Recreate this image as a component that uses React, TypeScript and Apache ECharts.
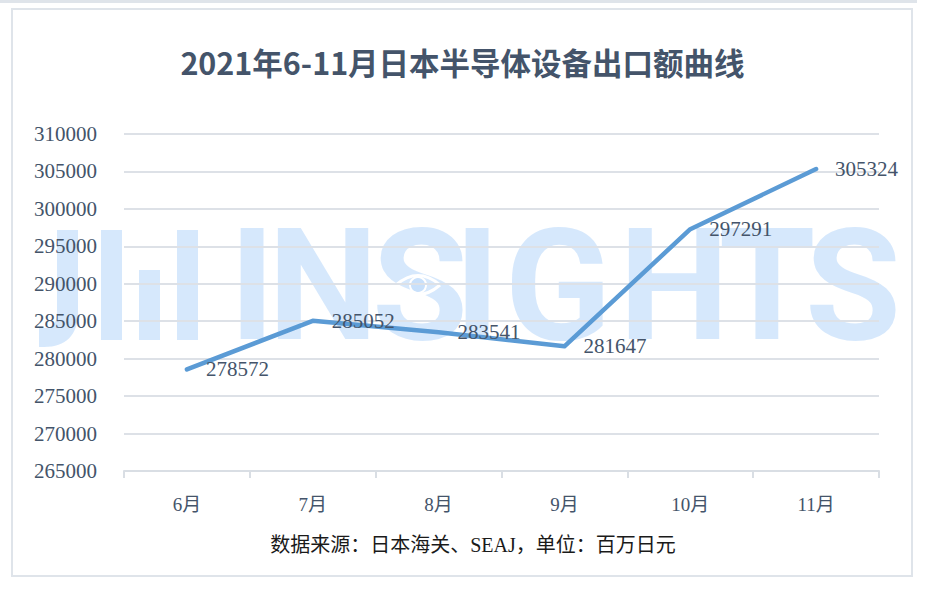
import React, { useEffect, useRef } from "react";
import * as echarts from "echarts";

const titleText = "2021年6-11月日本半导体设备出口额曲线";
const footerText = "数据来源：日本海关、SEAJ，单位：百万日元";
const categories = ["6月", "7月", "8月", "9月", "10月", "11月"];
const exportValues = [278572, 285052, 283541, 281647, 297291, 305324];
const yMin = 265000;
const yMax = 310000;
const yStep = 5000;
const watermarkLetters = ["I", "N", "S", "I", "G", "H", "T", "S"];
const watermarkCenters = [252, 323, 420, 477, 558, 674, 767, 853];

let registered = false;
function registerShapes() {
  if (registered) return;
  registered = true;
  const j = echarts.graphic.extendPath(
    "M57,230 L78,230 L78,312 C78,335 66,347 44,347 L39,347 L39,328 L44,328 C53,328 57,323 57,312 Z",
    {}
  );
  echarts.graphic.registerShape("wmJ", j);
}

export default function App() {
  const ref = useRef<HTMLDivElement>(null);
  useEffect(() => {
    if (!ref.current) return;
    registerShapes();
    const chart = echarts.init(ref.current, undefined, { renderer: "svg" });
    const wmColor = "rgba(120,180,245,0.3)";
    const serif = "'Liberation Serif', 'Noto Sans CJK SC', serif";
    const textColor = "#44546a";
    const graphic: any[] = [
      {
        type: "rect",
        z: -100,
        silent: true,
        shape: { x: 0, y: 0, width: 917, height: 3 },
        style: { fill: "#dfe4ea" },
      },
      {
        type: "rect",
        z: -100,
        silent: true,
        shape: { x: 12, y: 9, width: 900, height: 567 },
        style: { fill: "#ffffff", stroke: "#dfe4ea", lineWidth: 2 },
      },
      {
        type: "wmJ",
        z: -50,
        silent: true,
        x: 0,
        y: 0,
        style: { fill: wmColor },
      },
      { type: "rect", z: -50, silent: true, shape: { x: 101, y: 230, width: 21, height: 110 }, style: { fill: wmColor } },
      { type: "rect", z: -50, silent: true, shape: { x: 139, y: 270, width: 21, height: 70 }, style: { fill: wmColor } },
      { type: "rect", z: -50, silent: true, shape: { x: 177, y: 230, width: 21, height: 110 }, style: { fill: wmColor } },
      ...watermarkLetters.map((ch, i) => ({
        type: "text",
        z: -50,
        silent: true,
        x: watermarkCenters[i],
        y: 285,
        style: {
          text: ch,
          fill: wmColor,
          fontSize: 156,
          fontWeight: "bold",
          fontFamily: "Roboto",
          textAlign: "center",
          textVerticalAlign: "middle",
          verticalAlign: "middle",
        },
      })),
      {
        type: "bezierCurve",
        z: -40,
        silent: true,
        shape: { x1: 396, y1: 285, x2: 440, y2: 285, cpx1: 418, cpy1: 266 },
        style: { stroke: "#ffffff", lineWidth: 3, fill: null },
      },
      {
        type: "bezierCurve",
        z: -40,
        silent: true,
        shape: { x1: 396, y1: 285, x2: 440, y2: 285, cpx1: 418, cpy1: 304 },
        style: { stroke: "#ffffff", lineWidth: 3, fill: null },
      },
      {
        type: "circle",
        z: -40,
        silent: true,
        shape: { cx: 418, cy: 285, r: 8 },
        style: { fill: "rgba(120,180,245,0.15)", stroke: "#ffffff", lineWidth: 2 },
      },
      {
        type: "text",
        x: 473,
        y: 545,
        style: {
          text: footerText,
          fill: "#1a1a1a",
          fontSize: 20,
          fontFamily: serif,
          textAlign: "center",
          textVerticalAlign: "middle",
          verticalAlign: "middle",
        },
      },
    ];
    chart.setOption({
      animation: false,
      title: {
        text: titleText,
        left: "center",
        top: 42,
        textStyle: {
          fontSize: 30.5,
          fontWeight: "bold",
          color: textColor,
          fontFamily: "'Noto Sans CJK SC', sans-serif",
        },
      },
      graphic,
      grid: { left: 124, right: 46, top: 134, bottom: 119 },
      xAxis: {
        type: "category",
        data: categories,
        boundaryGap: true,
        axisLine: { show: true, lineStyle: { color: "#d9dee4", width: 2 } },
        axisTick: { show: true, length: 7, lineStyle: { color: "#d9dee4", width: 2 } },
        axisLabel: { color: textColor, fontSize: 19, fontFamily: serif, margin: 24 },
        splitLine: { show: false },
      },
      yAxis: {
        type: "value",
        min: yMin,
        max: yMax,
        interval: yStep,
        axisLine: { show: false },
        axisTick: { show: false },
        axisLabel: {
          color: textColor,
          fontSize: 21,
          fontFamily: serif,
          margin: 27,
          formatter: (v: number) => String(v),
        },
        splitLine: { show: true, lineStyle: { color: "#dde1e7", width: 2 } },
      },
      series: [
        {
          type: "line",
          data: exportValues,
          symbol: "circle",
          symbolSize: 2,
          showSymbol: true,
          itemStyle: { color: "#5b9bd5" },
          lineStyle: { color: "#5b9bd5", width: 4.5, cap: "round", join: "round" },
          label: {
            show: true,
            position: "right",
            distance: 18,
            color: textColor,
            fontSize: 21,
            fontFamily: serif,
          },
          z: 5,
        },
      ],
    });
    return () => chart.dispose();
  }, []);
  return (
    <div
      ref={ref}
      style={{ position: "fixed", left: 0, top: 0, width: 925, height: 590, background: "#fff" }}
    />
  );
}
